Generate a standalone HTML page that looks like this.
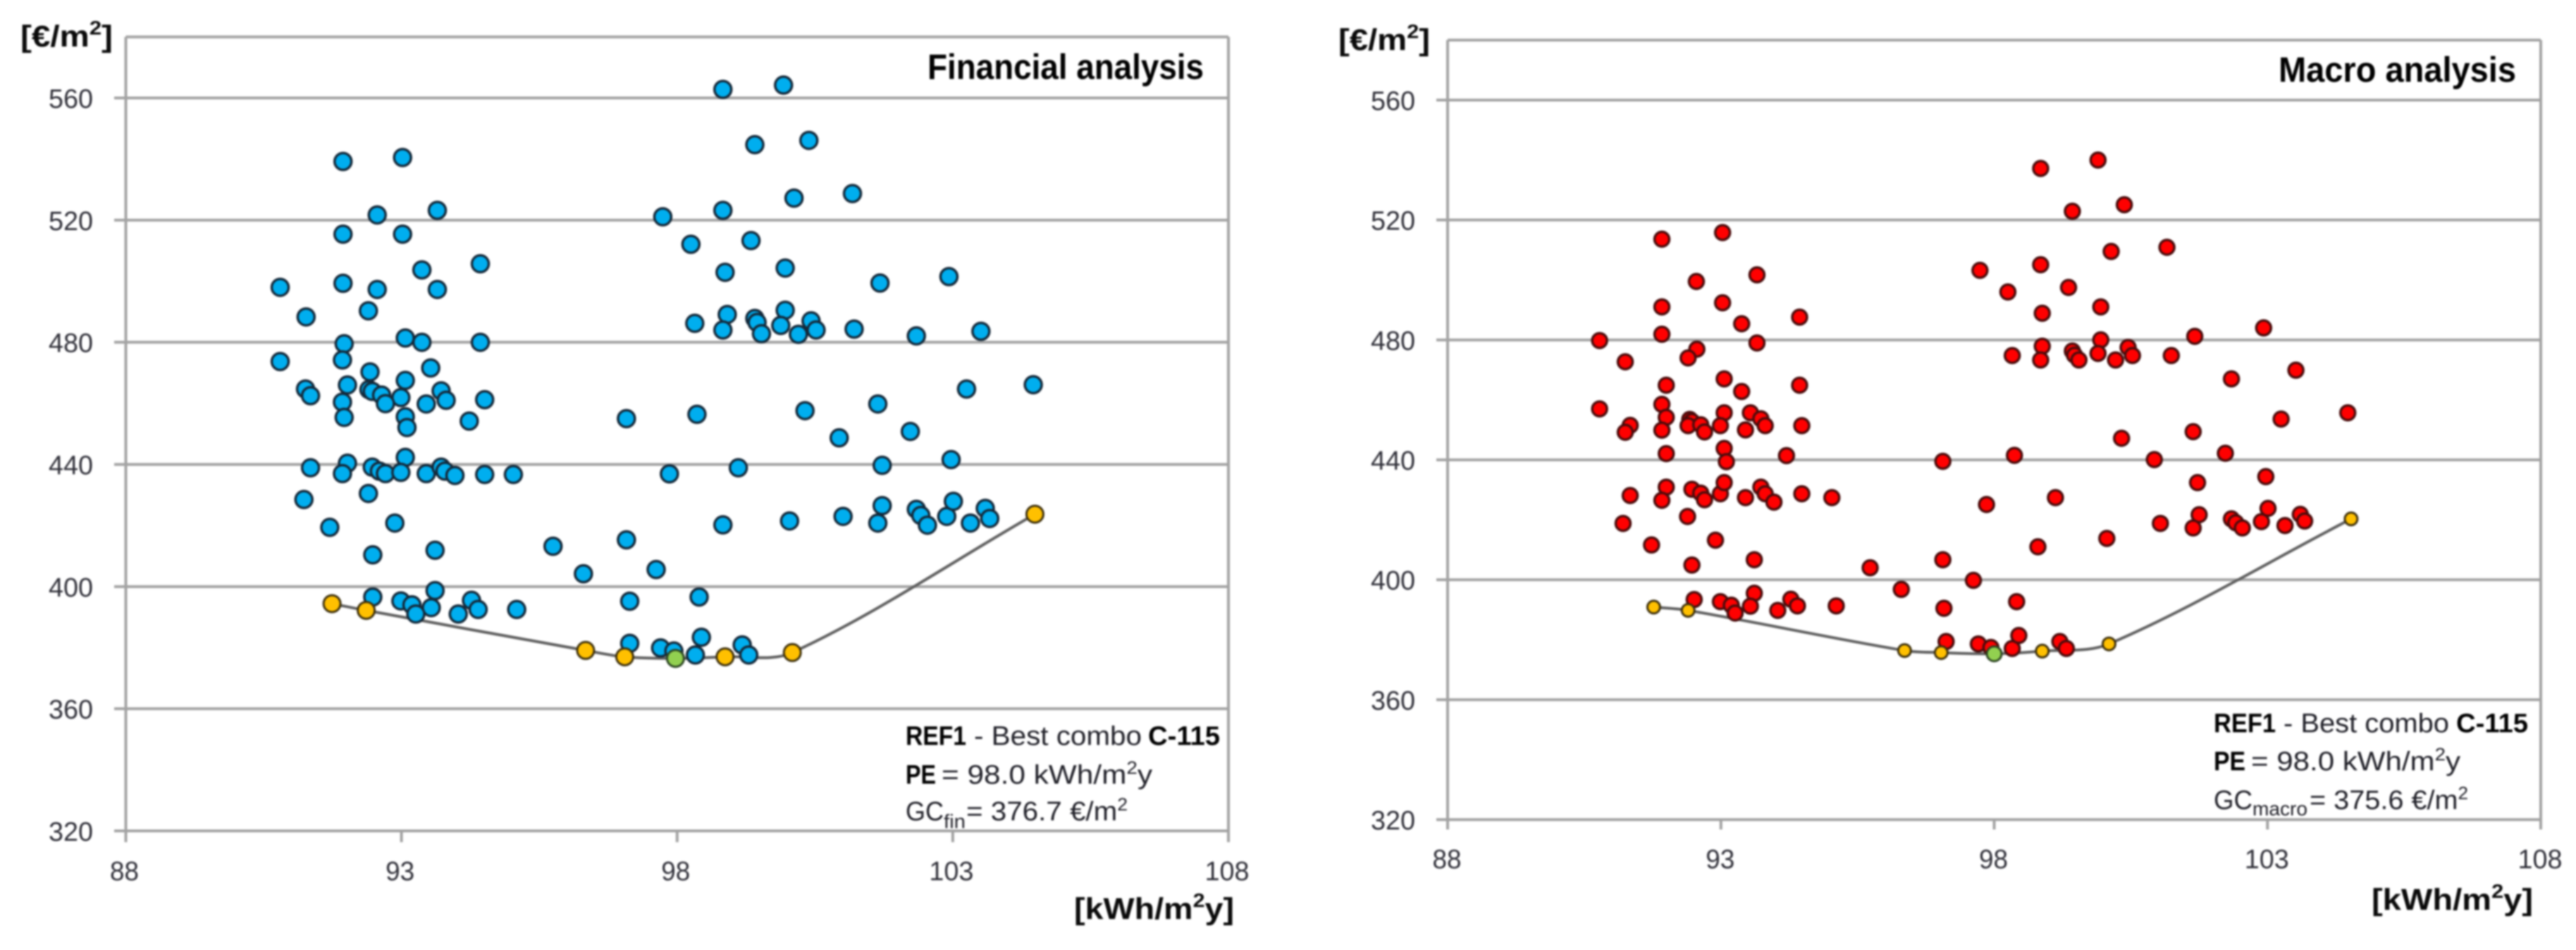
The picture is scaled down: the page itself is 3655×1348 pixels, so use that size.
<!DOCTYPE html>
<html lang="en">
<head>
<meta charset="utf-8">
<title>Financial and macro analysis</title>
<style>
html,body{margin:0;padding:0;background:#fff;width:3655px;height:1348px;overflow:hidden}
#figure{display:block;width:3655px;height:1348px;filter:blur(1.2px)}
text{font-family:"Liberation Sans",sans-serif}
.tick{font-size:38px;fill:#2f2f38}
.unit{font-size:43px;font-weight:bold;fill:#0a0a0a}
.title{font-size:50px;font-weight:bold;fill:#000}
.note{font-size:38px;fill:#202028}
.noteb{font-size:38px;font-weight:bold;fill:#000}
.sub{font-size:28px;fill:#202028}
</style>
</head>
<body>
<svg id="figure" xmlns="http://www.w3.org/2000/svg" width="3655" height="1348" viewBox="0 0 3655 1348">
  <g id="panel-left"></g>
  <g id="panel-right"></g>

  <text class="unit" x="29" y="66" textLength="131" lengthAdjust="spacingAndGlyphs">[€/m<tspan font-size="28" dy="-17">2</tspan><tspan dy="17">]</tspan></text>
  <text class="unit" x="1524" y="1304" textLength="227" lengthAdjust="spacingAndGlyphs">[kWh/m<tspan font-size="28" dy="-17">2</tspan><tspan dy="17">y]</tspan></text>
  <text class="title" x="1316" y="112" textLength="392" lengthAdjust="spacingAndGlyphs">Financial analysis</text>
  <g>
    <text class="noteb" x="1285" y="1057" textLength="86" lengthAdjust="spacingAndGlyphs">REF1</text>
    <text class="note" x="1382" y="1057" textLength="238" lengthAdjust="spacingAndGlyphs">- Best combo</text>
    <text class="noteb" x="1629" y="1057" textLength="102" lengthAdjust="spacingAndGlyphs">C-115</text>
    <text class="noteb" x="1285" y="1112" textLength="43" lengthAdjust="spacingAndGlyphs">PE</text>
    <text class="note" x="1336" y="1112" textLength="299" lengthAdjust="spacingAndGlyphs">= 98.0 kWh/m<tspan font-size="25" dy="-14">2</tspan><tspan dy="14">y</tspan></text>
    <text class="note" x="1285" y="1164" textLength="54" lengthAdjust="spacingAndGlyphs">GC</text>
    <text class="sub" x="1339" y="1175" textLength="31" lengthAdjust="spacingAndGlyphs">fin</text>
    <text class="note" x="1371" y="1164" textLength="229" lengthAdjust="spacingAndGlyphs">= 376.7 €/m<tspan font-size="25" dy="-14">2</tspan></text>
  </g>

  <text class="unit" x="1899" y="71" textLength="130" lengthAdjust="spacingAndGlyphs">[€/m<tspan font-size="28" dy="-17">2</tspan><tspan dy="17">]</tspan></text>
  <text class="unit" x="3365" y="1291" textLength="229" lengthAdjust="spacingAndGlyphs">[kWh/m<tspan font-size="28" dy="-17">2</tspan><tspan dy="17">y]</tspan></text>
  <text class="title" x="3233" y="116" textLength="337" lengthAdjust="spacingAndGlyphs">Macro analysis</text>
  <g>
    <text class="noteb" x="3141" y="1039" textLength="88" lengthAdjust="spacingAndGlyphs">REF1</text>
    <text class="note" x="3240" y="1039" textLength="235" lengthAdjust="spacingAndGlyphs">- Best combo</text>
    <text class="noteb" x="3485" y="1039" textLength="102" lengthAdjust="spacingAndGlyphs">C-115</text>
    <text class="noteb" x="3141" y="1093" textLength="45" lengthAdjust="spacingAndGlyphs">PE</text>
    <text class="note" x="3194" y="1093" textLength="297" lengthAdjust="spacingAndGlyphs">= 98.0 kWh/m<tspan font-size="25" dy="-14">2</tspan><tspan dy="14">y</tspan></text>
    <text class="note" x="3141" y="1148" textLength="55" lengthAdjust="spacingAndGlyphs">GC</text>
    <text class="sub" x="3196" y="1157" textLength="78" lengthAdjust="spacingAndGlyphs">macro</text>
    <text class="note" x="3277" y="1148" textLength="225" lengthAdjust="spacingAndGlyphs">= 375.6 €/m<tspan font-size="25" dy="-14">2</tspan></text>
  </g>
</svg>

<script>
const xTicks = [88, 93, 98, 103, 108];
const yTicks = [320, 360, 400, 440, 480, 520, 560];

const finEnergy = [91.94,93.02,92.56,93.65,91.94,93.02,93.37,94.43,90.80,91.94,92.56,93.65,92.40,91.27,91.96,93.07,93.37,94.43,90.80,91.93,92.43,93.53,93.07,92.02,91.26,91.35,92.41,92.47,92.64,92.99,93.72,93.81,94.51,91.93,92.71,93.45,91.96,93.07,93.10,94.23,97.08,91.35,92.02,91.93,92.47,92.60,92.71,93.07,92.99,93.45,93.72,93.79,93.97,94.51,95.03,91.23,92.40,91.70,92.88,92.48,93.61,95.75,97.08,96.30,93.61,92.48,92.99,93.19,93.54,93.26,94.27,94.39,94.03,95.09,97.14,97.14,98.83,99.93,99.41,100.39,100.12,101.18,97.74,98.83,98.25,99.34,98.87,99.96,101.68,102.93,98.32,98.91,98.83,99.41,99.45,99.53,99.96,99.88,100.20,100.43,100.52,101.21,102.34,103.51,104.46,103.25,98.36,100.32,101.64,100.94,102.23,97.86,99.11,101.72,102.97,97.62,98.40,98.83,100.04,101.01,101.72,101.64,102.34,102.42,102.54,102.89,103.01,103.32,103.59,103.67,98.44,97.70,97.94,98.33,99.18,99.30];
const finCost = [539.2,540.5,521.7,523.2,515.4,515.4,503.7,505.7,498.0,499.3,497.3,497.3,490.3,488.3,479.5,481.4,480.0,480.0,473.7,474.2,470.3,471.6,467.5,466.0,464.7,462.5,464.5,463.9,462.7,461.9,464.1,461.0,461.2,460.4,459.9,459.8,455.4,455.6,452.1,454.2,455.0,438.9,440.4,437.0,439.1,437.8,437.0,442.3,437.4,437.0,439.1,437.8,436.4,436.7,436.7,428.5,430.5,419.4,420.8,410.4,411.9,413.2,415.3,404.2,398.7,396.6,395.3,394.0,393.1,391.0,395.5,392.5,391.0,392.5,395.2,381.4,562.8,564.2,544.7,546.1,527.2,528.7,521.1,523.2,512.1,513.3,502.9,504.3,499.4,501.5,486.2,489.1,484.0,487.8,486.5,482.8,490.5,485.5,482.6,487.0,484.0,484.3,482.1,483.6,466.1,464.7,456.4,457.6,459.8,448.7,450.8,436.9,438.9,439.7,441.6,405.6,396.6,420.2,421.5,423.0,426.5,420.8,425.3,423.3,420.1,423.0,427.9,420.8,425.6,422.3,383.4,379.9,378.9,377.6,380.9,377.6];
const finFrontierEnergy = [91.74,92.36,96.34,97.05,97.97,98.87,100.09,104.49];
const finFrontierCost = [394.4,392.2,379.1,377.0,376.5,377.0,378.4,423.7];
const finMarkerEnergy = [91.74,92.36,96.34,97.05,98.87,100.09,104.49];
const finMarkerCost = [394.4,392.2,379.1,377.0,377.0,378.4,423.7];
const finBestEnergy = [97.97];
const finBestCost = [376.5];

const macEnergy = [91.92,93.03,92.55,93.66,91.92,93.03,93.38,94.44,90.78,91.92,92.56,92.40,93.66,91.25,93.06,92.00,93.38,94.44,90.78,91.92,92.00,93.06,93.54,92.43,92.47,92.40,92.63,92.70,92.99,93.45,93.73,93.81,94.48,91.34,91.25,91.92,92.00,93.06,93.10,94.20,97.06,92.00,92.47,92.63,92.70,92.99,93.06,93.45,93.73,93.81,93.97,94.48,95.03,91.34,91.92,92.39,91.21,91.73,92.90,92.47,93.61,95.73,97.06,96.30,93.61,92.51,92.99,93.19,93.54,93.26,94.28,94.40,94.04,95.11,97.08,97.12,98.85,99.90,99.43,100.38,100.14,101.16,97.74,98.85,98.25,99.36,98.88,99.95,101.67,102.93,98.33,98.88,98.85,99.43,99.47,99.55,99.95,99.90,100.22,100.45,100.53,101.24,102.34,103.52,103.25,104.47,98.37,100.33,101.64,100.93,102.23,101.72,102.97,97.86,99.12,97.62,98.80,100.06,98.41,101.04,101.75,101.64,102.34,102.42,102.54,102.89,103.01,103.32,103.60,103.68,97.71,97.94,98.33,98.45,99.20,99.32];
const macCost = [513.6,515.8,499.5,501.7,491.0,492.4,485.4,487.6,479.8,481.9,476.9,474.0,479.0,472.7,467.0,464.9,462.8,464.9,457.0,458.5,454.2,455.7,455.7,453.5,452.8,451.4,451.7,449.3,451.4,450.0,453.7,451.4,451.4,451.5,449.2,449.9,442.1,443.8,439.4,441.4,439.5,430.9,430.2,428.9,426.7,428.7,432.4,427.4,430.9,428.7,425.9,428.7,427.4,428.1,426.5,421.1,418.8,411.6,413.2,404.9,406.7,404.0,406.7,396.8,395.5,393.4,392.7,391.5,391.2,388.9,393.5,391.3,389.8,391.3,390.5,379.4,537.2,540.0,522.9,525.1,509.5,510.9,503.2,505.1,496.0,497.5,488.9,491.0,481.2,484.0,474.8,477.9,473.3,476.3,474.9,473.3,480.0,475.5,473.3,477.5,474.8,474.8,467.0,469.9,453.6,455.7,441.5,447.2,449.4,440.1,442.2,432.4,434.4,425.1,427.4,399.8,411.0,413.8,392.7,418.8,421.7,417.3,420.3,419.0,417.3,419.4,423.8,418.1,421.8,419.6,378.6,377.4,377.1,381.4,379.4,377.1];
const macFrontierEnergy = [91.77,92.40,96.36,97.03,98.00,98.88,100.10,104.53];
const macFrontierCost = [390.9,389.8,376.4,375.7,375.3,376.2,378.6,420.3];
const macMarkerEnergy = [91.77,92.40,96.36,97.03,98.88,100.10,104.53];
const macMarkerCost = [390.9,389.8,376.4,375.7,376.2,378.6,420.3];
const macBestEnergy = [98.00];
const macBestCost = [375.3];

const SVGNS = 'http://www.w3.org/2000/svg';

function shape(parent, tag) {
  const el = document.createElementNS(SVGNS, tag);
  parent.appendChild(el);
  return el;
}

function drawLine(parent, x1, y1, x2, y2) {
  const el = shape(parent, 'line');
  el.setAttribute('x1', x1);
  el.setAttribute('y1', y1);
  el.setAttribute('x2', x2);
  el.setAttribute('y2', y2);
  el.setAttribute('stroke', '#a3a3a3');
  el.setAttribute('stroke-width', '4');
  return el;
}

function smoothPath(px, py) {
  let d = 'M' + px[0].toFixed(1) + ' ' + py[0].toFixed(1);
  const n = px.length;
  const unit = function (i) {
    const a = Math.max(i - 1, 0), b = Math.min(i + 1, n - 1);
    const dx = px[b] - px[a], dy = py[b] - py[a];
    const len = Math.hypot(dx, dy) || 1;
    return [dx / len, dy / len];
  };
  for (let i = 0; i < n - 1; i++) {
    const seg = Math.hypot(px[i + 1] - px[i], py[i + 1] - py[i]) * 0.33;
    const u = unit(i), v = unit(i + 1);
    d += ' C' + (px[i] + u[0] * seg).toFixed(1) + ' ' + (py[i] + u[1] * seg).toFixed(1) + ' ' +
         (px[i + 1] - v[0] * seg).toFixed(1) + ' ' + (py[i + 1] - v[1] * seg).toFixed(1) + ' ' +
         px[i + 1].toFixed(1) + ' ' + py[i + 1].toFixed(1);
  }
  return d;
}

function drawMarkers(parent, xs, ys, sx, sy, r, fill, stroke, sw, prefix) {
  const g = shape(parent, 'g');
  
  
  xs.forEach(function (v, i) {
    const c = shape(g, 'circle');
    
    
    c.setAttribute('cx', sx(v).toFixed(1));
    c.setAttribute('cy', sy(ys[i]).toFixed(1));
    c.setAttribute('r', r);
    c.setAttribute('fill', fill);
    c.setAttribute('stroke', stroke);
    c.setAttribute('stroke-width', sw);
  });
}

function drawChart(root, box, series) {
  const sx = function (v) { return box.x0 + (v - xTicks[0]) * (box.x1 - box.x0) / (xTicks[xTicks.length - 1] - xTicks[0]); };
  const sy = function (v) { return box.y0 - (v - yTicks[0]) * (box.y560 - box.y0) / (yTicks[0] - yTicks[yTicks.length - 1]); };
  const top = sy(580);
  const axes = shape(root, 'g');
  
  

  yTicks.forEach(function (t) {
    const g = drawLine(axes, box.tickLeft, sy(t), box.x1, sy(t));
    
    
    const label = shape(axes, 'text');
    
    
    label.setAttribute('class', 'tick');
    label.setAttribute('x', box.yLabelRight);
    label.setAttribute('y', sy(t) + 14);
    label.setAttribute('text-anchor', 'end');
    label.setAttribute('textLength', '63');
    label.setAttribute('lengthAdjust', 'spacingAndGlyphs');
    label.textContent = String(t);
  });

  const topLine = drawLine(axes, box.x0, top, box.x1, top);
  
  

  xTicks.forEach(function (t, i) {
    const isEdge = i === 0 || i === xTicks.length - 1;
    const m = drawLine(axes, sx(t), isEdge ? top : box.y0, sx(t), box.tickBottom);
    
    
    const label = shape(axes, 'text');
    
    
    label.setAttribute('class', 'tick');
    label.setAttribute('x', sx(t) + box.xLabelShift);
    label.setAttribute('y', box.xLabelBase);
    label.setAttribute('text-anchor', 'middle');
    label.setAttribute('textLength', String(t).length === 2 ? '41' : '63');
    label.setAttribute('lengthAdjust', 'spacingAndGlyphs');
    label.textContent = String(t);
  });

  const curve = shape(root, 'path');
  
  
  curve.setAttribute('d', smoothPath(series.frontierX.map(sx), series.frontierY.map(sy)));
  curve.setAttribute('fill', 'none');
  curve.setAttribute('stroke', '#5f5f5f');
  curve.setAttribute('stroke-width', '4');

  drawMarkers(root, series.x, series.y, sx, sy, box.r, series.fill, series.edge, 3.5, series.name);
  drawMarkers(root, series.markerX, series.markerY, sx, sy, box.yellowR, '#ffc000', '#3d300c', 3, 'frontier');
  drawMarkers(root, series.bestX, series.bestY, sx, sy, box.greenR, '#92d050', '#2c4522', 3, 'best-combo');
}

drawChart(document.getElementById('panel-left'),
  { x0: 178.5, x1: 1743, y0: 1179, y560: 139, tickLeft: 162, tickBottom: 1195, yLabelRight: 132, xLabelShift: -2, xLabelBase: 1249, r: 12, yellowR: 12, greenR: 12 },
  { name: 'financial-cost', x: finEnergy, y: finCost, fill: '#00aeef', edge: '#14293a',
    frontierX: finFrontierEnergy, frontierY: finFrontierCost, markerX: finMarkerEnergy, markerY: finMarkerCost, bestX: finBestEnergy, bestY: finBestCost });

drawChart(document.getElementById('panel-right'),
  { x0: 2054, x1: 3605, y0: 1163, y560: 142, tickLeft: 2038, tickBottom: 1177, yLabelRight: 2008, xLabelShift: -1, xLabelBase: 1232, r: 10.5, yellowR: 9, greenR: 10.5 },
  { name: 'macro-cost', x: macEnergy, y: macCost, fill: '#ff0000', edge: '#4a0c0c',
    frontierX: macFrontierEnergy, frontierY: macFrontierCost, markerX: macMarkerEnergy, markerY: macMarkerCost, bestX: macBestEnergy, bestY: macBestCost });
</script>
</body>
</html>
